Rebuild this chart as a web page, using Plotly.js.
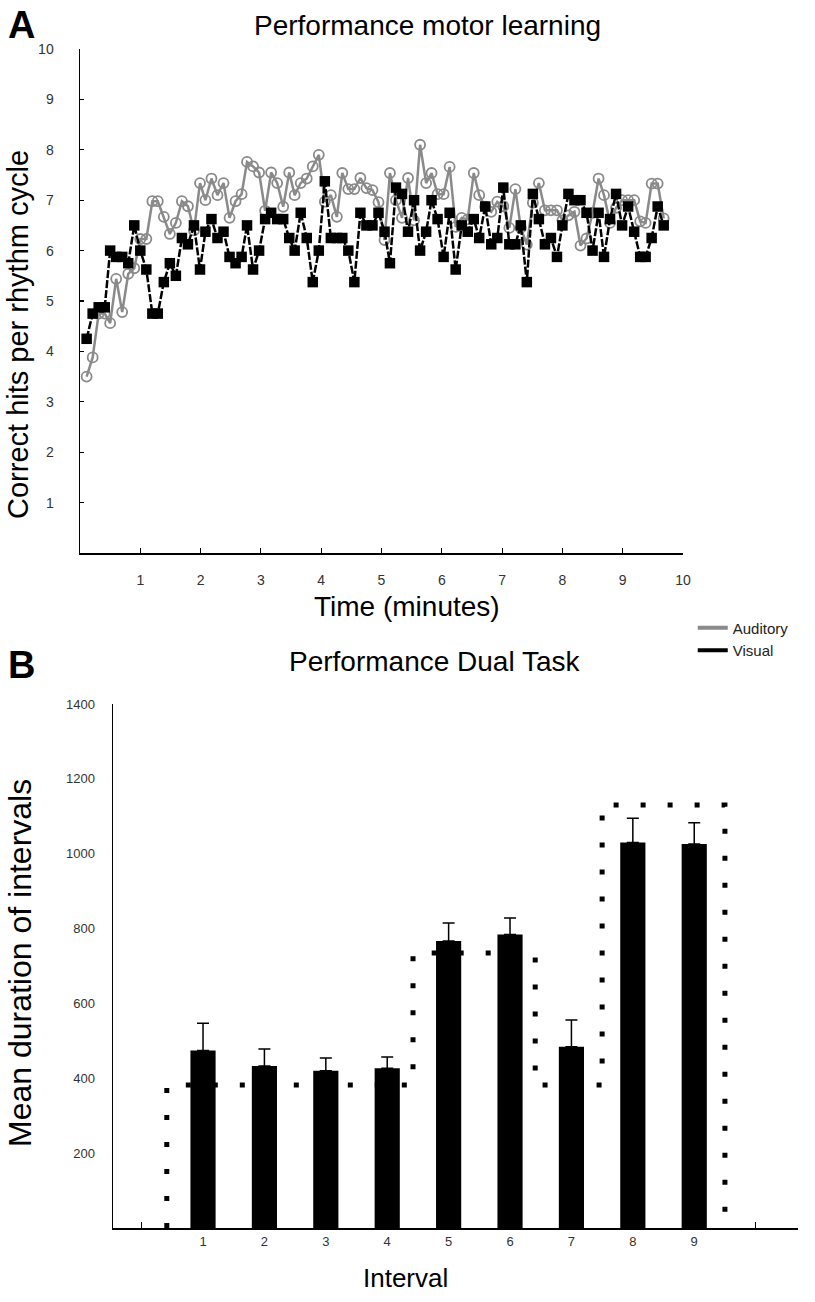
<!DOCTYPE html>
<html><head><meta charset="utf-8">
<script src="https://cdn.plot.ly/plotly-3.0.1.min.js"></script>
<style>html,body{margin:0;padding:0;background:#fff}#chart{width:815px;height:1302px}</style>
</head><body><div id="chart"></div>
<script>
// ---------- Panel A data ----------
const timeMinutes = [0.11,0.21,0.31,0.41,0.50,0.60,0.70,0.80,0.90,1.00,
1.10,1.20,1.29,1.39,1.49,1.59,1.69,1.79,1.89,1.99,
2.08,2.18,2.28,2.38,2.48,2.58,2.68,2.77,2.87,2.97,
3.07,3.17,3.27,3.37,3.47,3.56,3.66,3.76,3.86,3.96,
4.06,4.16,4.26,4.35,4.45,4.55,4.65,4.75,4.85,4.95,
5.05,5.14,5.24,5.34,5.44,5.54,5.64,5.74,5.83,5.93,
6.03,6.13,6.23,6.33,6.43,6.53,6.62,6.72,6.82,6.92,
7.02,7.12,7.22,7.31,7.41,7.51,7.61,7.71,7.81,7.91,
8.00,8.10,8.20,8.30,8.40,8.50,8.60,8.69,8.79,8.89,
8.99,9.09,9.19,9.29,9.38,9.48,9.58,9.68];
const auditoryHits = [3.5,3.88,4.75,4.75,4.56,5.44,4.78,5.54,5.65,6.23,
6.23,6.98,6.98,6.67,6.33,6.55,6.98,6.88,6.4,7.34,
7.0,7.43,7.1,7.34,6.65,6.98,7.12,7.76,7.67,7.55,
6.79,7.55,7.34,6.87,7.55,7.1,7.34,7.43,7.67,7.9,
6.97,7.1,6.67,7.54,7.22,7.22,7.44,7.24,7.2,6.96,
6.21,7.54,7.0,6.65,7.44,6.6,8.1,7.34,7.54,7.12,
7.12,7.66,6.47,6.65,6.62,7.54,7.1,6.87,6.77,6.97,
6.88,6.45,7.22,6.45,6.12,6.95,7.34,6.8,6.8,6.8,
6.6,6.7,6.77,6.1,6.24,6.75,7.43,7.1,6.55,6.85,
7.0,7.0,7.0,6.58,6.55,7.33,7.33,6.64];
const visualHits = [4.25,4.75,4.875,4.875,6.0,5.875,5.875,5.75,6.5,6.0,
5.625,4.75,4.75,5.375,5.75,5.5,6.25,6.125,6.5,5.625,
6.375,6.625,6.25,6.375,5.875,5.75,5.875,6.5,5.625,6.0,
6.625,6.75,6.625,6.625,6.25,6.0,6.75,6.25,5.375,6.0,
7.375,6.25,6.25,6.25,6.0,5.375,6.75,6.5,6.5,6.75,
6.375,5.75,7.25,7.125,6.375,7.0,6.0,6.375,7.0,6.625,
5.875,6.75,5.625,6.5,6.375,6.625,6.25,6.875,6.125,6.25,
7.25,6.125,6.125,6.5,5.375,7.125,6.625,6.125,6.25,5.875,
6.5,7.125,7.0,7.0,6.75,6.0,6.75,5.875,6.625,7.125,
6.5,6.875,6.375,5.875,5.875,6.25,6.875,6.5];
const timeTicks = [1,2,3,4,5,6,7,8,9,10];
const hitTicks = [1,2,3,4,5,6,7,8,9,10];

// ---------- Panel B data ----------
const intervals = [1,2,3,4,5,6,7,8,9];
const meanDuration = [474,433,420,427,767,784,484,1030,1026];
const durationSEM = [73,45,34,30,48,44,72,65,57];
const durationTicks = [200,400,600,800,1000,1200,1400];
const targetEdges = [0.41,4.42,6.41,7.5,9.5];
const targetLevels = [382,735,382,1130];

// build the dotted target outline from edges and levels
const outX = [targetEdges[0]], outY = [0];
for (let k = 0; k < targetLevels.length; k++) {
  outX.push(targetEdges[k], targetEdges[k+1]);
  outY.push(targetLevels[k], targetLevels[k]);
}
outX.push(targetEdges[targetEdges.length-1]); outY.push(0);

const FONT = '"Liberation Sans",Arial,sans-serif';
const GRAY = '#8a8a8a';
const W = 815, H = 1302;
const px = v => v / W, py = v => 1 - v / H;

const traces = [
  {x: timeMinutes, y: auditoryHits, xaxis:'x', yaxis:'y', type:'scatter', mode:'lines+markers',
   name:'Auditory', showlegend:false, hoverinfo:'skip',
   line:{color:GRAY, width:2.5},
   marker:{symbol:'circle-open', size:10, color:GRAY, line:{width:1.8, color:GRAY}}},
  {x: timeMinutes, y: visualHits, xaxis:'x', yaxis:'y', type:'scatter', mode:'lines+markers',
   name:'Visual', showlegend:false, hoverinfo:'skip',
   line:{color:'#000', width:2.5, dash:'8px,2px'},
   marker:{symbol:'square', size:10.5, color:'#000', line:{width:0}}},
  {x:[null], y:[null], xaxis:'x', yaxis:'y', type:'scatter', mode:'lines', name:'Auditory',
   line:{color:GRAY, width:4}},
  {x:[null], y:[null], xaxis:'x', yaxis:'y', type:'scatter', mode:'lines', name:'Visual',
   line:{color:'#000', width:4}},
  {x: intervals, y: meanDuration, xaxis:'x2', yaxis:'y2', type:'bar', width:0.41,
   showlegend:false, hoverinfo:'skip',
   marker:{color:'#000', line:{width:0}},
   error_y:{type:'data', symmetric:false, array: durationSEM, arrayminus: intervals.map(()=>0),
            color:'#000', thickness:1.5, width:6}},
  {x: outX, y: outY, xaxis:'x2', yaxis:'y2', type:'scatter', mode:'lines', showlegend:false,
   hoverinfo:'skip', line:{color:'#000', width:5, dash:'5px,22px'}}
];

function label(text, x, y, size, angle) {
  return {text: text, xref:'paper', yref:'paper', x:px(x), y:py(y),
          xanchor:'center', yanchor:'middle', showarrow:false, textangle: angle || 0,
          font:{size:size, family:FONT, color:'#000'}};
}

const layout = {
  width:W, height:H, margin:{l:0,r:0,t:0,b:0},
  paper_bgcolor:'#fff', plot_bgcolor:'rgba(0,0,0,0)',
  font:{family:FONT, color:'#000'},
  showlegend:true,
  legend:{x:0.85, y:0.5304, xanchor:'left', yanchor:'top', bgcolor:'rgba(0,0,0,0)',
          font:{size:15, family:FONT, color:'#222'}, itemwidth:30, tracegroupgap:0},
  xaxis:{domain:[px(80), px(683)], anchor:'y', range:[0,10], tickmode:'array', tickvals:timeTicks,
         ticks:'inside', ticklen:5, tickwidth:1.2, tickcolor:'#000', showgrid:false, zeroline:false,
         showline:true, linecolor:'#000', linewidth:1.5, ticklabelstandoff:14,
         tickfont:{size:14, color:'#333', family:FONT}},
  yaxis:{domain:[py(553), py(49)], anchor:'x', range:[0,10], tickmode:'array', tickvals:hitTicks,
         ticks:'inside', ticklen:4, tickwidth:1.2, tickcolor:'#000', showgrid:false, zeroline:false,
         showline:true, linecolor:'#000', linewidth:1.5, ticklabelstandoff:22,
         tickfont:{size:14, color:'#333', family:FONT}},
  xaxis2:{domain:[px(113), px(798)], anchor:'y2', range:[-0.466,10.69], tickmode:'array', tickvals:intervals,
          ticks:'', showgrid:false, zeroline:false, showline:true, linecolor:'#000', linewidth:1.5,
          tickfont:{size:13, color:'#333', family:FONT}, ticklabelstandoff:1,
          minor:{tickmode:'array', tickvals:[0,10], ticks:'inside', ticklen:6, tickcolor:'#000', tickwidth:1.2}},
  yaxis2:{domain:[py(1228), py(704)], anchor:'x2', range:[0,1400], tickmode:'array', tickvals:durationTicks,
          ticks:'', showgrid:false, zeroline:false, showline:true, linecolor:'#000', linewidth:1.5,
          tickfont:{size:13, color:'#333', family:FONT}, ticklabelstandoff:14},
  annotations:[
    {text:'<b>A</b>', xref:'paper', yref:'paper', x:px(6), y:py(2), xanchor:'left', yanchor:'top',
     showarrow:false, font:{size:38, family:FONT, color:'#000'}},
    {text:'<b>B</b>', xref:'paper', yref:'paper', x:px(6), y:py(642), xanchor:'left', yanchor:'top',
     showarrow:false, font:{size:38, family:FONT, color:'#000'}},
    label('Performance motor learning', 427, 25, 28),
    label('Performance Dual Task', 435, 662, 28),
    label('Time (minutes)', 407, 606, 28),
    label('Interval', 405, 1278, 26),
    label('Correct hits per rhythm cycle', 18, 335, 29, -90),
    label('Mean duration of intervals', 20, 963, 32, -90)
  ]
};

Plotly.newPlot('chart', traces, layout, {displayModeBar:false, staticPlot:true});
</script></body></html>
